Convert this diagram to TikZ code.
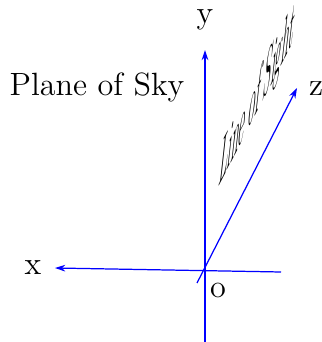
\documentclass[tikz,border=0pt]{standalone}
\usepackage{tikz}
\usetikzlibrary{arrows.meta, positioning}

\begin{document}
\begin{tikzpicture}[x=0.01572cm, y=0.01572cm,
  axis/.style={blue, line width=0.55pt},
  tip/.style={-{Stealth[length=4.6pt, width=3pt]}},
  lbl/.style={font=\Large}]
\useasboundingbox (0,0) rectangle (322,342);
% axes end points
\coordinate (o) at (205,72);
\coordinate (ybot) at (205,0);
\coordinate (ytop) at (205,292);
\coordinate (xright) at (281,70);
\coordinate (xtip) at (55,74);
\coordinate (zbot) at (197,59);
\coordinate (ztip) at (297,254);
\draw [axis, tip] (ybot) -- (ytop);
\draw [axis, tip] (xright) -- (xtip);
\draw [axis, tip] (zbot) -- (ztip);
% labels
\node (ylbl) at (205,322) [lbl] {y};
\node (zlbl) at (316,253) [lbl] {z};
\node (xlbl) at (33,74) [lbl] {x};
\node (olbl) at (218,52) [lbl] {o};
\node (sky) at (97,255) [lbl] {Plane of Sky};
\node (los) at (218,154) [lbl, anchor=base west, inner sep=0pt,
  cm={0.42,0.81,0.24,2.2,(0,0)}] {Line of Sight};
\end{tikzpicture}
\end{document}
